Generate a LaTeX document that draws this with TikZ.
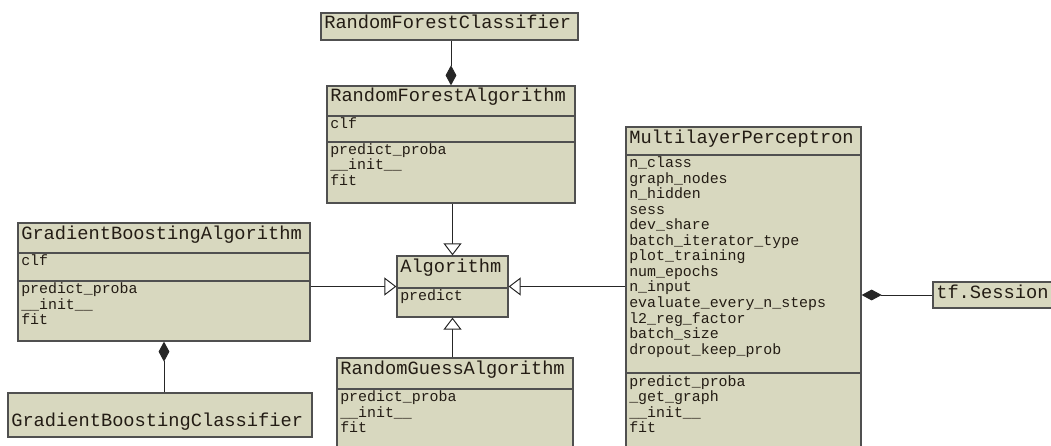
\documentclass[tikz,border=0pt]{standalone}
\usepackage{fontspec}
\newfontfamily\umlfont{Liberation Mono}
\usetikzlibrary{arrows.meta,fit}
\definecolor{umlfill}{RGB}{216,216,191}
\definecolor{umlline}{RGB}{80,80,80}
\definecolor{umltext}{RGB}{35,28,20}
\tikzset{
  cls/.style={draw=umlline, fill=umlfill, line width=0.9pt, inner sep=0pt},
  sep/.style={draw=umlline, line width=0.9pt},
  ttl/.style={font=\umlfont\fontsize{13.3}{16}\selectfont, text=umltext, inner sep=0pt, anchor=base west},
  mem/.style={font=\umlfont\fontsize{10.6}{11}\selectfont, text=umltext, inner sep=0pt, anchor=base west},
  link/.style={draw=black!85, line width=0.7pt},
  inherit/.style={link, -{Triangle[length=0.3cm, width=0.45cm, fill=white]}},
  owns/.style={link, -{Diamond[length=0.5cm, width=0.27cm]}}
}
\begin{document}
\begin{tikzpicture}[x=0.025cm, y=-0.025cm]
    \clip (0,0) rectangle (1051,446);

    % class boxes
    \node[cls, fit={(321,13) (578,40)}] (rfc) {};
    \node[cls, fit={(327,86) (575,203)}] (rfa) {};
    \node[cls, fit={(18,223) (310,341)}] (gba) {};
    \node[cls, fit={(8,393) (312,437)}] (gbc) {};
    \node[cls, fit={(397,256) (508,317)}] (alg) {};
    \node[cls, fit={(337,358) (573,470)}] (rga) {};
    \node[cls, fit={(626,127) (861,470)}] (mlp) {};
    \node[cls, fit={(933,282) (1070,308)}] (tfs) {};

    % compartments
    \draw[sep] (327,116) -- (575,116);
    \draw[sep] (327,142) -- (575,142);
    \draw[sep] (18,253) -- (310,253);
    \draw[sep] (18,281) -- (310,281);
    \draw[sep] (397,288) -- (508,288);
    \draw[sep] (337,389) -- (573,389);
    \draw[sep] (626,155) -- (861,155);
    \draw[sep] (626,373) -- (861,373);

    % names
    \node[ttl] (rfc-t) at (324,29) {RandomForestClassifier};
    \node[ttl] (rfa-t) at (330,102) {RandomForestAlgorithm};
    \node[ttl] (gba-t) at (21,239) {GradientBoostingAlgorithm};
    \node[ttl] (gbc-t) at (11,426) {GradientBoostingClassifier};
    \node[ttl] (alg-t) at (400,272) {Algorithm};
    \node[ttl] (rga-t) at (340,374) {RandomGuessAlgorithm};
    \node[ttl] (mlp-t) at (629,144) {MultilayerPerceptron};
    \node[ttl] (tfs-t) at (936,298) {tf.Session};

    % attributes and methods
    \node[mem] (rfa-a0) at (330,128.5) {clf};
    \foreach \m [count=\i from 0] in {predict\_proba, \_\_init\_\_, fit}
        \node[mem] (rfa-m\i) at (330,154.5+15.5*\i) {\m};
    \node[mem] (gba-a0) at (21,265.5) {clf};
    \foreach \m [count=\i from 0] in {predict\_proba, \_\_init\_\_, fit}
        \node[mem] (gba-m\i) at (21,293.5+15.5*\i) {\m};
    \node[mem] (alg-m0) at (400,300.5) {predict};
    \foreach \m [count=\i from 0] in {predict\_proba, \_\_init\_\_, fit}
        \node[mem] (rga-m\i) at (340,401.5+15.5*\i) {\m};
    \foreach \m [count=\i from 0] in {n\_class, graph\_nodes, n\_hidden, sess,
        dev\_share, batch\_iterator\_type, plot\_training, num\_epochs, n\_input,
        evaluate\_every\_n\_steps, l2\_reg\_factor, batch\_size, dropout\_keep\_prob}
        \node[mem] (mlp-a\i) at (629,167.5+15.55*\i) {\m};
    \foreach \m [count=\i from 0] in {predict\_proba, \_get\_graph, \_\_init\_\_, fit}
        \node[mem] (mlp-m\i) at (629,386.5+15.4*\i) {\m};

    % relations
    \draw[inherit] (alg.north |- rfa.south) -- (alg.north);
    \draw[inherit] (gba.east |- alg.west) -- (alg.west);
    \draw[inherit] (mlp.west |- alg.east) -- (alg.east);
    \draw[inherit] (alg.south |- rga.north) -- (alg.south);
    \draw[owns] (rfa.north |- rfc.south) -- (rfa.north);
    \draw[owns] (gba.south |- gbc.north) -- (gba.south);
    \draw[owns] (tfs.west) -- (mlp.east |- tfs.west);
\end{tikzpicture}
\end{document}
